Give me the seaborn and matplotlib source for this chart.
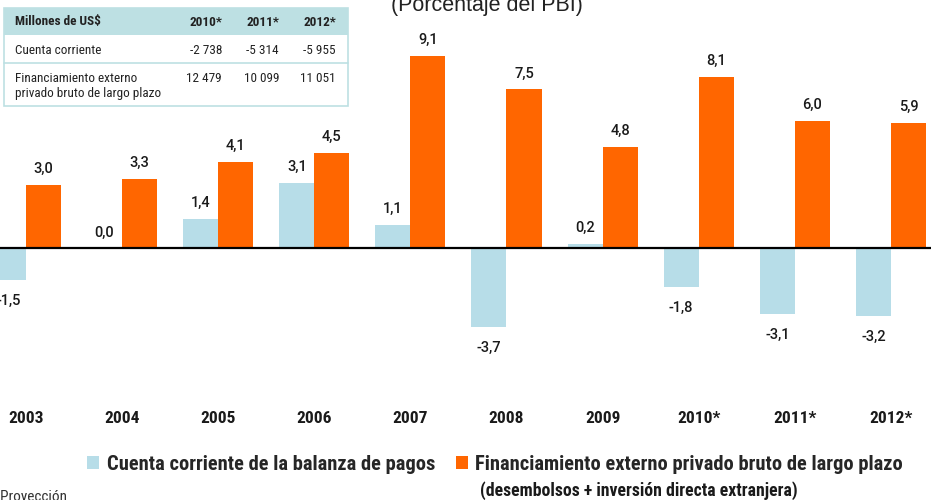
import matplotlib
matplotlib.use("Agg")
import matplotlib.pyplot as plt
import seaborn as sns
import pandas as pd
from matplotlib import font_manager as fm
from matplotlib.patches import Rectangle, Patch
from matplotlib.lines import Line2D

# ---------------- data ----------------
years = ["2003", "2004", "2005", "2006", "2007", "2008", "2009", "2010*", "2011*", "2012*"]
cuenta = [-1.5, 0.0, 1.4, 3.1, 1.1, -3.7, 0.2, -1.8, -3.1, -3.2]
financ = [3.0, 3.3, 4.1, 4.5, 9.1, 7.5, 4.8, 8.1, 6.0, 5.9]
series = ["Cuenta corriente de la balanza de pagos",
          "Financiamiento externo privado bruto de largo plazo"]
subtitle_legend = "(desembolsos + inversión directa extranjera)"
title = "(Porcentaje del PBI)"
note = "* Proyección"

table_header = "Millones de US$"
table_years = ["2010*", "2011*", "2012*"]
table_row1_label = "Cuenta corriente"
table_row1 = ["-2 738", "-5 314", "-5 955"]
table_row2_label = ["Financiamiento externo", "privado bruto de largo plazo"]
table_row2 = ["12 479", "10 099", "11 051"]

BLUE = "#b7dde8"
ORANGE = "#ff6600"
TEAL = "#bde0e3"
TXT = "#1a1a1a"

# ---------------- fonts ----------------
sns.set_theme(style="white")
names = {f.name for f in fm.fontManager.ttflist}
NARROW = "Roboto Condensed" if "Roboto Condensed" in names else "PT Sans Narrow"
plt.rcParams["font.family"] = ["Liberation Sans", "DejaVu Sans"]

W, H = 931, 500
fig = plt.figure(figsize=(W / 100, H / 100), dpi=100)
fig.patch.set_facecolor("white")

def px(x, y):
    return (x / W, 1 - y / H)

# axes: spans full width, top of figure down to y=405 px
ax = fig.add_axes([0, (H - 405) / H, 1, 405 / H])
ax.set_facecolor("none")

df = pd.DataFrame({
    "year": years * 2,
    "valor": cuenta + financ,
    "serie": [series[0]] * len(years) + [series[1]] * len(years),
})

sns.barplot(data=df, x="year", y="valor", hue="serie", order=years,
            hue_order=series, palette=[BLUE, ORANGE], width=0.73,
            dodge=True, legend=False, ax=ax, linewidth=0, saturation=1)

scale = 21.2  # px per unit
zero_px = 248.5
ax.set_ylim(-(405 - zero_px) / scale, zero_px / scale)
ax.set_xlim(-26 / 96.1, (W - 26) / 96.1)
ax.axhline(0, color="black", lw=1.6, zorder=5)

for s in ax.spines.values():
    s.set_visible(False)
ax.set_yticks([])
ax.set_xlabel("")
ax.set_ylabel("")
ax.tick_params(axis="x", length=0, pad=4)
ax.set_xticks(range(len(years)))
ax.set_xticklabels(years, fontsize=12.5, fontweight="bold", family=NARROW, color=TXT)

# value labels
for cont in ax.containers:
    for bar, v in zip(cont, cont.datavalues):
        txt = f"{v:.1f}".replace(".", ",")
        x = bar.get_x() + bar.get_width() / 2
        if v >= 0:
            ax.annotate(txt, (x, v), xytext=(0, 6.5), textcoords="offset points",
                        ha="center", va="bottom", fontsize=10.5, family="Roboto",
                        fontweight="medium", color=TXT)
        else:
            ax.annotate(txt, (x, v), xytext=(0, -10), textcoords="offset points",
                        ha="center", va="top", fontsize=10.5, family="Roboto",
                        fontweight="medium", color=TXT)

# title (partially cut off at the top)
fig.text(*px(487, 11), title, ha="center", va="baseline", fontsize=15.5, color="#222222")

# legend
handles = [Patch(facecolor=BLUE, edgecolor="none"), Patch(facecolor=ORANGE, edgecolor="none")]
fig.legend(handles, series, loc="center", bbox_to_anchor=px(495, 464), ncol=2,
           frameon=False, handlelength=0.6, handleheight=0.6, handletextpad=0.35,
           columnspacing=1.0, borderpad=0,
           prop=fm.FontProperties(family=NARROW, weight="bold", size=14.8))
fig.text(*px(639, 491), subtitle_legend, ha="center", va="center", fontsize=12.8,
         fontweight="bold", family=NARROW, color=TXT)
fig.text(*px(-10, 497), note, ha="left", va="center", fontsize=11, family=NARROW, color="#333333")

# table
x0, x1, y0, y1 = 4, 348, 8, 106
fig.add_artist(Rectangle(px(x0, y1), (x1 - x0) / W, (y1 - y0) / H, transform=fig.transFigure,
                         facecolor="white", edgecolor=TEAL, lw=1.2, zorder=2))
fig.add_artist(Rectangle(px(x0, 35), (x1 - x0) / W, (35 - y0) / H, transform=fig.transFigure,
                         facecolor=TEAL, edgecolor="none", zorder=2.1))
fig.add_artist(Line2D([x0 / W, x1 / W], [1 - 63 / H, 1 - 63 / H], transform=fig.transFigure,
                      color=TEAL, lw=1.2, zorder=2.2))
tkw = dict(family=NARROW, fontsize=9.5, color="#222222", zorder=3)
fig.text(*px(15, 22), table_header, ha="left", va="center", fontweight="bold", **tkw)
rights = [222, 279, 336]
for r, yv, a, b in zip(rights, table_years, table_row1, table_row2):
    fig.text(*px(r, 22), yv, ha="right", va="center", fontweight="bold", **tkw)
    fig.text(*px(r, 50), a, ha="right", va="center", **tkw)
    fig.text(*px(r, 78), b, ha="right", va="center", **tkw)
fig.text(*px(15, 50), table_row1_label, ha="left", va="center", **tkw)
fig.text(*px(15, 78), table_row2_label[0], ha="left", va="center", **tkw)
fig.text(*px(15, 93), table_row2_label[1], ha="left", va="center", **tkw)

fig.savefig("out.png", dpi=100, facecolor="white")
